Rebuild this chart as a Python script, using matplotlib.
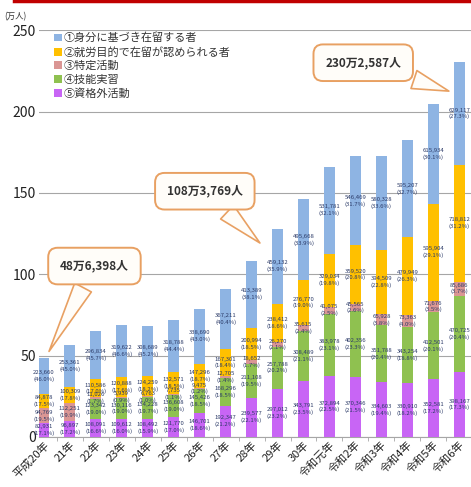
import numpy as np
import matplotlib
matplotlib.use("Agg")
import matplotlib.pyplot as plt
from matplotlib.patches import Patch

plt.rcParams['font.family'] = ['Noto Sans CJK JP', 'DejaVu Sans']

# years (x categories)
years = ['平成20年', '21年', '22年', '23年', '24年', '25年', '26年', '27年', '28年',
         '29年', '30年', '令和元年', '令和2年', '令和3年', '令和4年', '令和5年', '令和6年']

# number of workers by status of residence (persons), bottom -> top
shikakugai = [82931, 96897, 108091, 109612, 108492, 121770, 146701, 192347, 239577,
              297012, 343791, 372894, 370346, 334603, 330910, 352581, 398167]
ginou = [0, 0, 123342, 130116, 134228, 136608, 145426, 168296, 211108,
         257788, 308489, 383978, 402356, 351788, 343254, 412501, 470725]
tokutei = [94769, 112251, 11026, 5939, 6763, 7735, 9475, 12705, 18652,
           26270, 35615, 41075, 45565, 65928, 73363, 71676, 85686]
shuro = [84878, 100309, 110586, 120888, 124259, 132571, 147296, 167301, 200994,
         238412, 276770, 329034, 359520, 394509, 479949, 595904, 718812]
mibun = [223660, 253361, 296834, 319622, 308689, 318788, 338690, 367211, 413389,
         459132, 495668, 531781, 546469, 580328, 595207, 615934, 629117]

# shares (%) printed on the chart
pct_shikakugai = [17.1, 17.2, 16.6, 16.0, 15.9, 17.0, 18.6, 21.2, 22.1, 23.2, 23.5, 22.5, 21.5, 19.4, 18.2, 17.2, 17.3]
pct_ginou = [0, 0, 19.0, 19.0, 19.7, 19.0, 18.5, 18.5, 19.5, 20.2, 21.1, 23.1, 23.3, 20.4, 18.8, 20.1, 20.4]
pct_tokutei = [19.5, 19.9, 1.7, 0.9, 1.0, 1.1, 1.2, 1.4, 1.7, 2.1, 2.4, 2.5, 2.6, 3.8, 4.0, 3.5, 3.7]
pct_shuro = [17.5, 17.8, 17.0, 17.6, 18.2, 18.5, 18.7, 18.4, 18.5, 18.6, 19.0, 19.8, 20.8, 22.8, 26.3, 29.1, 31.2]
pct_mibun = [46.0, 45.0, 45.7, 46.6, 45.2, 44.4, 43.0, 40.4, 38.1, 35.9, 33.9, 32.1, 31.7, 33.6, 32.7, 30.1, 27.3]

legend_labels = ['①身分に基づき在留する者', '②就労目的で在留が認められる者', '③特定活動', '④技能実習', '⑤資格外活動']
colors = ['#8EB4E3', '#FFC000', '#DA9694', '#8FC150', '#C865F5']

callouts = [('48万6,398人', 0), ('108万3,769人', 8), ('230万2,587人', 16)]

series = [shikakugai, ginou, tokutei, shuro, mibun]
pcts = [pct_shikakugai, pct_ginou, pct_tokutei, pct_shuro, pct_mibun]
series_colors = [colors[4], colors[3], colors[2], colors[1], colors[0]]

fig = plt.figure(figsize=(4.71, 4.87), dpi=100)
ax = fig.add_axes([0.082, 0.103, 0.918, 0.835])

x = np.arange(len(years))
bottom = np.zeros(len(years))
for vals, pc, col in zip(series, pcts, series_colors):
    v = np.array(vals) / 10000.0
    ax.bar(x, v, width=0.42, bottom=bottom, color=col, zorder=3)
    for i in range(len(years)):
        if vals[i] > 0:
            ax.text(x[i], bottom[i] + v[i] / 2, f'{vals[i]:,}\n({pc[i]:.1f}%)',
                    ha='center', va='center', fontsize=4.3, color='#2B3A67',
                    linespacing=1.3, zorder=5)
    bottom += v

ax.set_ylim(0, 250)
ax.set_xlim(-0.2, 16.45)
ax.set_yticks([0, 50, 100, 150, 200, 250])
ax.yaxis.grid(True, color='#A6A6A6', lw=0.8, zorder=0)
ax.tick_params(axis='y', length=0, labelsize=10, colors='#222222', pad=2)
ax.set_xticks(x)
ax.set_xticklabels(years, rotation=45, ha='right', rotation_mode='anchor', fontsize=8, color='#222222')
ax.set_xticks(x[:-1] + 0.5, minor=True)
ax.tick_params(axis='x', which='major', length=0, pad=2)
ax.tick_params(axis='x', which='minor', length=3, color='#A6A6A6')
for s in ['top', 'right', 'left']:
    ax.spines[s].set_visible(False)
ax.spines['bottom'].set_color('#A6A6A6')

handles = [Patch(facecolor=c, label=l) for c, l in zip(colors, legend_labels)]
ax.legend(handles=handles, loc='upper left', bbox_to_anchor=(0.025, 1.005), frameon=False,
          fontsize=8, handlelength=0.7, handleheight=0.7, handletextpad=0.2,
          labelspacing=0.3, borderaxespad=0.0, labelcolor='#333333')

# speech bubble callouts
box_pos = [(1.95, 105), (6.2, 151), (12.3, 230)]
tips = [(0.15, 51), (8.4, 118), (15.7, 212)]
for (txt, idx), bp, tp in zip(callouts, box_pos, tips):
    ax.annotate(txt, xy=tp, xytext=bp, ha='center', va='center', fontsize=8.5,
                fontweight='bold', color='#333333', zorder=6,
                bbox=dict(boxstyle='round,pad=1.0,rounding_size=0.8', fc='#FFFDF9',
                          ec='#E8A062', lw=1.4),
                arrowprops=dict(arrowstyle='wedge,tail_width=1.6,shrink_factor=0.5',
                                fc='#FFFDF9', ec='#E8A062', lw=1.2))

fig.text(0.008, 0.965, '(万人)', fontsize=6, color='#333333', va='center')
fig.add_artist(plt.Line2D([0.03, 1.0], [0.997, 0.997], color='#C00000', lw=2.5))

plt.savefig('out.png', dpi=100)
